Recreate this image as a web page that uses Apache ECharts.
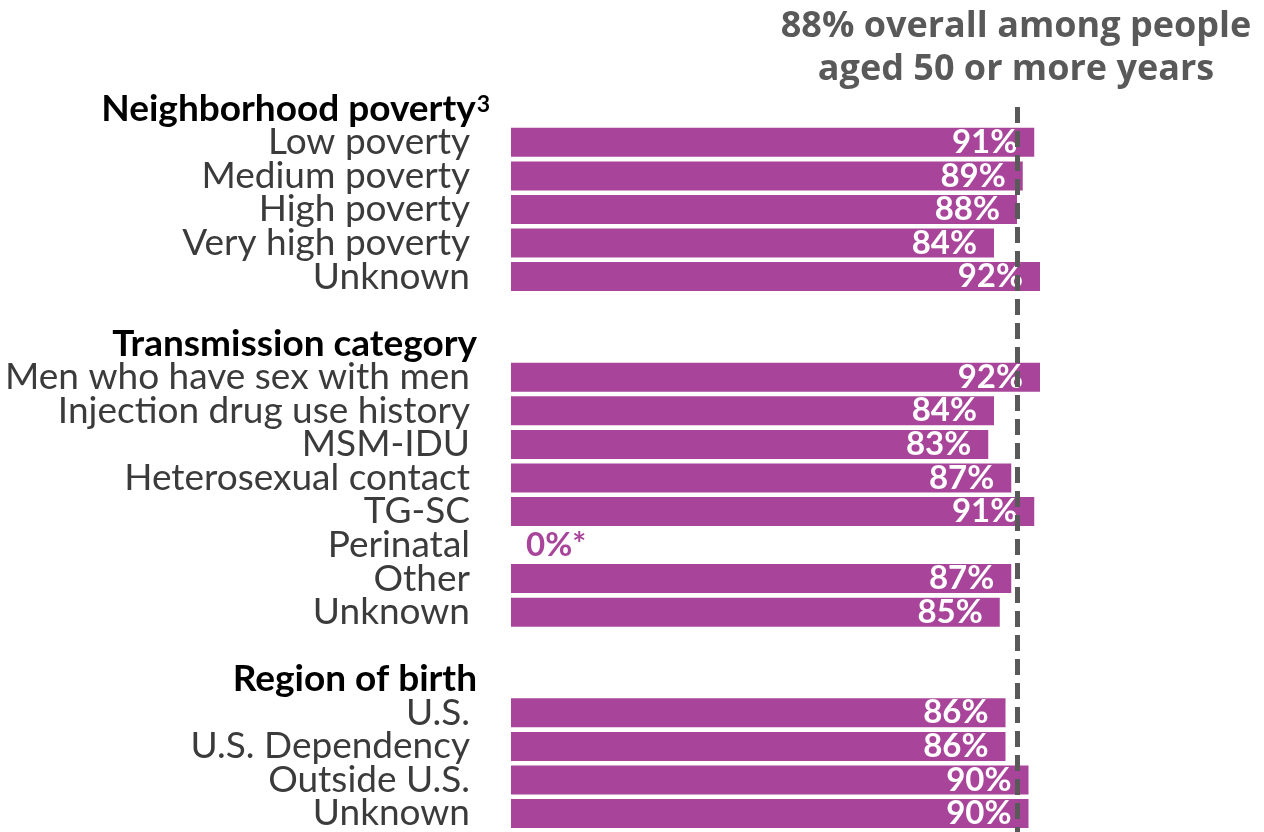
<!DOCTYPE html>
<html>
<head>
<meta charset="utf-8">
<title>Viral suppression among people aged 50 or more years</title>
<script src="https://cdn.jsdelivr.net/npm/echarts@6/dist/echarts.min.js"></script>
<style>
  html, body { margin: 0; padding: 0; background: #ffffff; }
  #chart { width: 1264px; height: 832px; }
</style>
</head>
<body>
<div id="chart"></div>
<script>
// Group headings (the footnote marker is drawn as a superscript)
const headings = ['Neighborhood poverty', 'Transmission category', 'Region of birth'];
const headingNotes = ['3', '', ''];

// Neighborhood poverty
const povertyLabels = ['Low poverty', 'Medium poverty', 'High poverty', 'Very high poverty', 'Unknown'];
const povertyValues = [91, 89, 88, 84, 92];

// Transmission category
const transmissionLabels = ['Men who have sex with men', 'Injection drug use history', 'MSM-IDU',
  'Heterosexual contact', 'TG-SC', 'Perinatal', 'Other', 'Unknown'];
const transmissionValues = [92, 84, 83, 87, 91, 0, 87, 85];

// Region of birth
const birthLabels = ['U.S.', 'U.S. Dependency', 'Outside U.S.', 'Unknown'];
const birthValues = [86, 86, 90, 90];

// Overall percentage (reference line)
const overall = 88;

// Categories whose value carries an asterisk note
const starred = ['Perinatal'];

const PURPLE = '#a8459a';
const GREY = '#595959';

// Build the row list: heading, items, spacer between groups
const groups = [
  [headings[0], headingNotes[0], povertyLabels, povertyValues],
  [headings[1], headingNotes[1], transmissionLabels, transmissionValues],
  [headings[2], headingNotes[2], birthLabels, birthValues]
];
const rows = [];
groups.forEach(function (g, gi) {
  rows.push({ kind: 'heading', text: g[0], note: g[1], value: null });
  g[2].forEach(function (name, i) {
    rows.push({ kind: 'item', text: name, value: g[3][i], star: starred.indexOf(name) >= 0 });
  });
  if (gi < groups.length - 1) rows.push({ kind: 'blank', text: '', value: null });
});

const barData = rows.map(function (r) {
  if (r.value === null) return '-';
  if (r.value === 0) {
    return {
      value: r.value,
      label: { position: 'right', distance: 15, color: PURPLE }
    };
  }
  return r.value;
});

const chart = echarts.init(document.getElementById('chart'), null, { renderer: 'canvas' });

chart.setOption({
  animation: false,
  backgroundColor: '#ffffff',
  grid: { left: 511, right: 178, top: 92, bottom: 0, containLabel: false },
  xAxis: {
    type: 'value', min: 0, max: 100,
    show: false
  },
  yAxis: {
    type: 'category',
    inverse: true,
    data: rows.map(function (r, i) { return 'row' + i; }),
    axisLine: { show: false },
    axisTick: { show: false },
    splitLine: { show: false },
    axisLabel: {
      margin: 21,
      interval: 0,
      formatter: function (v, i) {
        const r = rows[i];
        if (r.kind === 'heading') {
          return r.note ? '{hn|' + r.text + '}{s|' + r.note + '}' : '{h|' + r.text + '}';
        }
        if (r.kind === 'blank') return '';
        return '{c|' + r.text + '}';
      },
      rich: {
        h: { fontFamily: 'Lato', fontWeight: 'bold', fontSize: 37, color: '#000000', lineHeight: 40, padding: [0, 13, 0, 0] },
        hn: { fontFamily: 'Lato', fontWeight: 'bold', fontSize: 37, color: '#000000', lineHeight: 40 },
        s: { fontFamily: 'Lato', fontWeight: 'bold', fontSize: 23, color: '#000000', lineHeight: 22, verticalAlign: 'top', padding: [4, 0, 0, 1] },
        c: { fontFamily: 'Lato', fontSize: 37, color: '#3b3b3b', padding: [0, 20, 0, 0] }
      }
    }
  },
  series: [{
    type: 'bar',
    data: barData,
    barWidth: 29,
    itemStyle: { color: PURPLE },
    label: {
      show: true,
      position: 'insideRight',
      distance: 17,
      fontFamily: 'Lato',
      fontWeight: 'bold',
      fontSize: 33,
      color: '#ffffff',
      formatter: function (p) {
        const r = rows[p.dataIndex];
        return p.value + '%' + (r.star ? '*' : '');
      }
    },
    markLine: {
      silent: true,
      symbol: 'none',
      label: { show: false },
      lineStyle: { color: GREY, width: 5, type: [16, 8], opacity: 1 },
      data: [[{ xAxis: overall, y: 107 }, { xAxis: overall, y: '100%' }]]
    }
  }],
  graphic: [{
    type: 'text',
    x: 1016,
    y: 5,
    style: {
      text: overall + '% overall among people\naged 50 or more years',
      font: 'bold 36px "Open Sans"',
      fill: GREY,
      textAlign: 'center',
      lineHeight: 43
    }
  }]
});
</script>
</body>
</html>
